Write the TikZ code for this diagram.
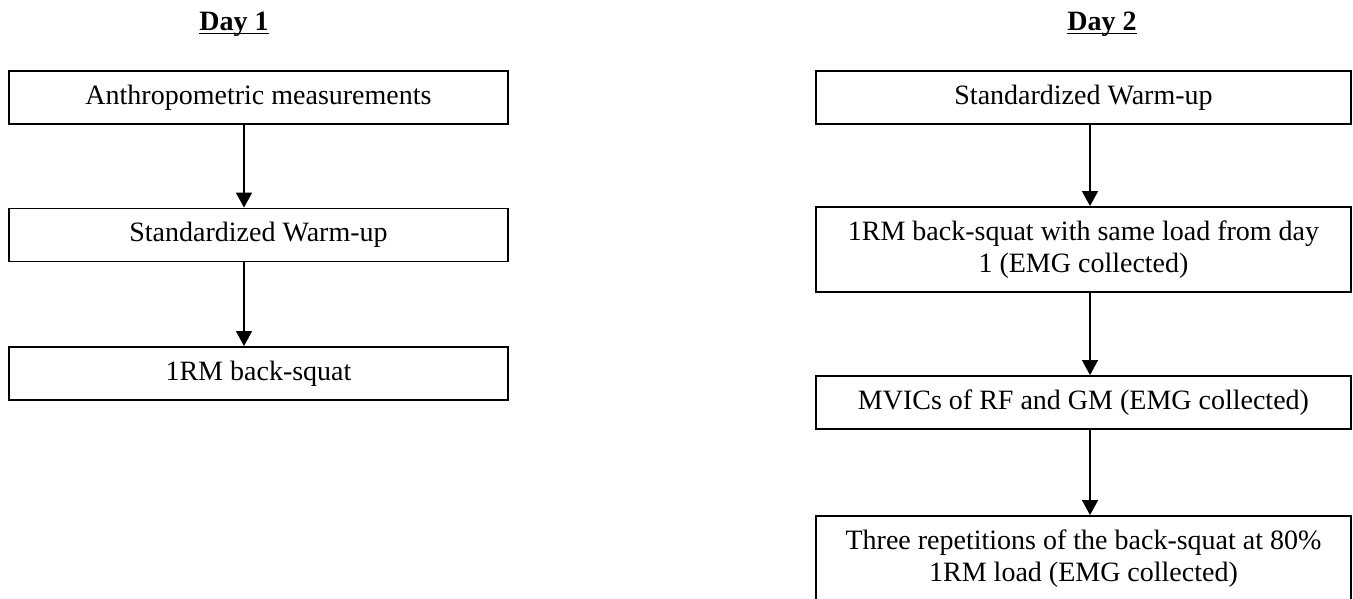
\documentclass[tikz,border=0pt]{standalone}
\usepackage{fontspec}
\setmainfont{Liberation Serif}
\usetikzlibrary{arrows.meta}

\tikzset{
  stage/.style={draw, line width=1.9pt, align=center, inner sep=0pt,
    minimum height=53pt, font=\fontsize{28}{32}\selectfont},
  dayhead/.style={inner sep=0pt, font=\fontsize{28}{32}\selectfont\bfseries},
  headrule/.style={line width=1.8pt},
  flow/.style={line width=1.4pt, -{Triangle[length=15pt, width=16pt]}}
}

\begin{document}
\begin{tikzpicture}[x=1pt, y=-1pt]
\useasboundingbox (0,0) rectangle (1353,598);

% Headings, underlined
\node[dayhead, anchor=base] (d1) at (234,30.5) {Day 1};
\node[dayhead, anchor=base] (d2) at (1102,30.5) {Day 2};
\draw[headrule] ([yshift=-3pt]d1.base west) -- ([yshift=-3pt]d1.base east);
\draw[headrule] ([yshift=-3pt]d2.base west) -- ([yshift=-3pt]d2.base east);

% Day 1 boxes
\node[stage, minimum width=499pt] (l1) at (258.5,97.5) {Anthropometric measurements};
\node[stage, minimum width=499pt] (l2) at (258.5,235) {Standardized Warm-up};
\node[stage, minimum width=499pt] (l3) at (258.5,373.5) {1RM back-squat};

% Day 2 boxes
\node[stage, minimum width=535pt] (r1) at (1083.5,97.5) {Standardized Warm-up};
\node[stage, minimum width=535pt, minimum height=85pt] (r2) at (1083.5,249.5)
  {1RM back-squat with same load from day\\1 (EMG collected)};
\node[stage, minimum width=535pt] (r3) at (1083.5,402.5) {MVICs of RF and GM (EMG collected)};
\node[stage, minimum width=535pt, minimum height=85pt] (r4) at (1083.5,558.5)
  {Three repetitions of the back-squat at 80\%\\1RM load (EMG collected)};

% Arrows
\draw[flow] ([xshift=-14.5pt]l1.south) -- ([xshift=-14.5pt]l2.north);
\draw[flow] ([xshift=-14.5pt]l2.south) -- ([xshift=-14.5pt]l3.north);
\draw[flow] ([xshift=6.5pt]r1.south) -- ([xshift=6.5pt]r2.north);
\draw[flow] ([xshift=6.5pt]r2.south) -- ([xshift=6.5pt]r3.north);
\draw[flow] ([xshift=6.5pt]r3.south) -- ([xshift=6.5pt]r4.north);

\end{tikzpicture}
\end{document}
